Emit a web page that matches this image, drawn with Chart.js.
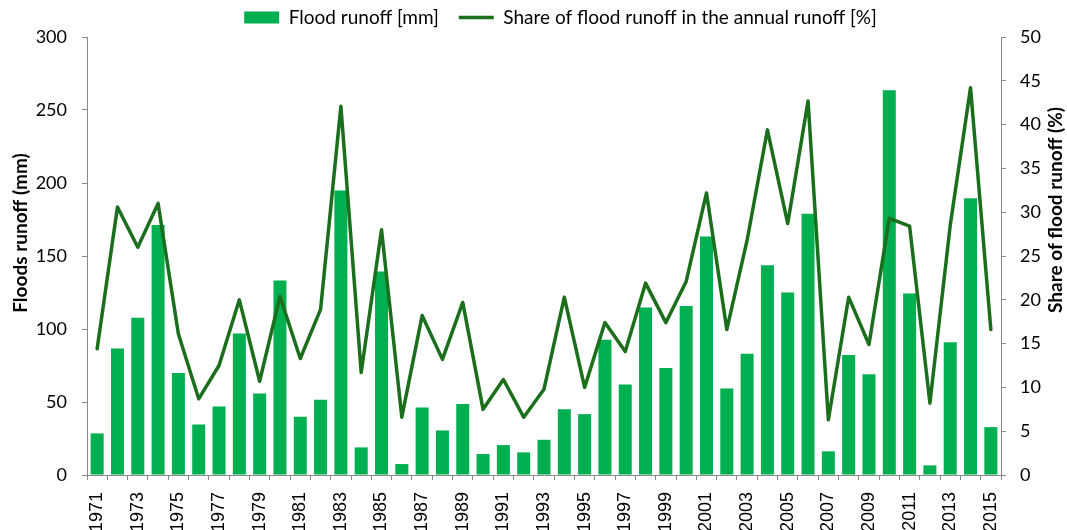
<!DOCTYPE html>
<html>
<head>
<meta charset="utf-8">
<script src="https://cdn.jsdelivr.net/npm/chart.js@4/dist/chart.umd.min.js"></script>
<style>
  body { margin: 0; background: #fff; }
  #wrap { width: 1067px; height: 530px; }
</style>
</head>
<body>
<div id="wrap"><canvas id="chart"></canvas></div>
<script>
const years = [
  '1971', '1972', '1973', '1974', '1975', '1976', '1977', '1978', '1979', '1980',
  '1981', '1982', '1983', '1984', '1985', '1986', '1987', '1988', '1989', '1990',
  '1991', '1992', '1993', '1994', '1995', '1996', '1997', '1998', '1999', '2000',
  '2001', '2002', '2003', '2004', '2005', '2006', '2007', '2008', '2009', '2010',
  '2011', '2012', '2013', '2014', '2015'
];

// flood runoff, mm (left axis)
const floodRunoff = [
  28.5, 86.6, 107.7, 171.3, 69.9, 34.6, 46.9, 97, 55.8, 133.3,
  39.9, 51.5, 194.8, 18.9, 139.4, 7.5, 46.2, 30.5, 48.7, 14.4,
  20.5, 15.5, 24.1, 45.1, 41.7, 92.7, 62.0, 114.8, 73.3, 115.7,
  163.3, 59.2, 83.1, 143.7, 125, 179, 16.2, 82.2, 69, 263.6,
  124.4, 6.6, 90.9, 189.5, 32.8
];

// share of flood runoff in annual runoff, % (right axis)
const floodShare = [
  14.4, 30.6, 26.0, 31.0, 16.1, 8.7, 12.5, 20.0, 10.7, 20.4,
  13.3, 18.9, 42.1, 11.7, 28.0, 6.6, 18.2, 13.2, 19.7, 7.5,
  10.9, 6.6, 9.8, 20.3, 10.0, 17.4, 14.1, 21.9, 17.4, 22.1,
  32.2, 16.6, 26.8, 39.4, 28.7, 42.7, 6.3, 20.3, 14.9, 29.3,
  28.4, 8.2, 28.5, 44.2, 16.6
];

const leftTicks = { min: 0, max: 300, step: 50 };
const rightTicks = { min: 0, max: 50, step: 5 };

const axisGrey = '#898989';
const barGreen = '#00b050';
const lineGreen = '#1a6e1c';

// nudge the legend a bit to the right, like the original
const shiftLegend = {
  id: 'shiftLegend',
  afterLayout(chart) {
    chart.legend.left += 27;
    chart.legend.right += 27;
  }
};

// axis titles sit a little above the middle in the original
const axisTitles = {
  id: 'axisTitles',
  afterDraw(chart) {
    const ctx = chart.ctx;
    ctx.save();
    ctx.fillStyle = '#000';
    ctx.font = 'bold 19px Lato';
    ctx.textAlign = 'center';
    ctx.textBaseline = 'middle';
    [['Floods runoff (mm)', 21, 233], ['Share of flood runoff (%)', 1056, 210]].forEach(([txt, x, y]) => {
      ctx.save();
      ctx.translate(x, y);
      ctx.rotate(-Math.PI / 2);
      ctx.fillText(txt, 0, 0);
      ctx.restore();
    });
    ctx.restore();
  }
};

new Chart(document.getElementById('chart'), {
  type: 'bar',
  data: {
    labels: years,
    datasets: [
      {
        label: 'Flood runoff [mm]',
        data: floodRunoff,
        backgroundColor: barGreen,
        borderWidth: 0,
        barPercentage: 0.64,
        categoryPercentage: 1,
        yAxisID: 'y',
        pointStyle: 'rect',
        order: 1
      },
      {
        type: 'line',
        label: 'Share of flood runoff in the annual runoff [%]',
        data: floodShare,
        borderColor: lineGreen,
        backgroundColor: lineGreen,
        borderWidth: 3.5,
        borderJoinStyle: 'round',
        borderCapStyle: 'round',
        pointRadius: 0,
        tension: 0,
        yAxisID: 'y1',
        pointStyle: 'line',
        order: 0
      }
    ]
  },
  options: {
    responsive: true,
    maintainAspectRatio: false,
    animation: false,
    layout: { padding: { top: -12, left: 0, right: 0, bottom: 0 } },
    plugins: {
      legend: {
        display: true,
        labels: {
          usePointStyle: true,
          pointStyleWidth: 35,
          boxHeight: 12,
          padding: 20,
          color: '#000',
          font: { family: 'Lato', size: 19 },
          sort: (a, b) => a.datasetIndex - b.datasetIndex
        }
      },
      tooltip: { enabled: false }
    },
    scales: {
      x: {
        offset: true,
        grid: { offset: true, drawOnChartArea: false, drawTicks: true, tickLength: 5, color: axisGrey },
        border: { color: axisGrey, width: 1 },
        ticks: {
          autoSkip: false,
          maxRotation: 90,
          minRotation: 90,
          padding: 12,
          color: '#000',
          font: { family: 'Liberation Sans', size: 18 },
          callback: function (value, index) {
            return index % 2 === 0 ? this.getLabelForValue(value) : '';
          }
        },
        afterFit: (scale) => { scale.height = 55; }
      },
      y: {
        position: 'left',
        min: leftTicks.min,
        max: leftTicks.max,
        grid: { drawOnChartArea: false, drawTicks: true, tickLength: 5, color: axisGrey },
        border: { color: axisGrey, width: 1 },
        ticks: {
          stepSize: leftTicks.step,
          padding: 15,
          color: '#000',
          font: { family: 'Lato', size: 18 }
        },
        afterFit: (scale) => { scale.width = 87; }
      },
      y1: {
        position: 'right',
        min: rightTicks.min,
        max: rightTicks.max,
        grid: { drawOnChartArea: false, drawTicks: true, tickLength: 5, color: axisGrey },
        border: { color: axisGrey, width: 1 },
        ticks: {
          stepSize: rightTicks.step,
          padding: 14,
          color: '#000',
          font: { family: 'Lato', size: 18 }
        },
        afterFit: (scale) => { scale.width = 66; }
      }
    }
  },
  plugins: [shiftLegend, axisTitles]
});
</script>
</body>
</html>
